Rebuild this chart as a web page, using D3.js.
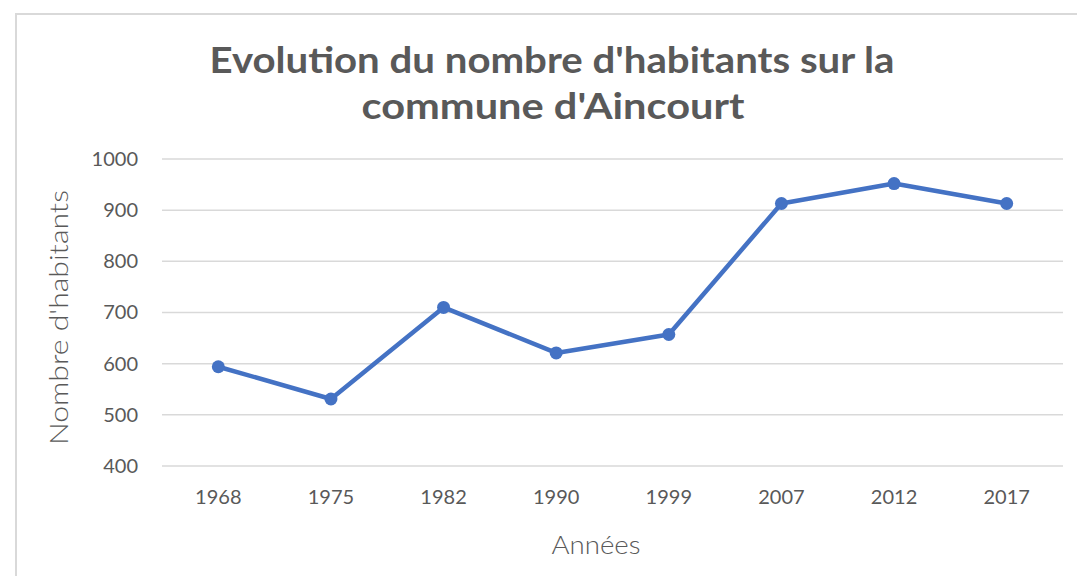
<!DOCTYPE html>
<html lang="fr">
<head>
<meta charset="utf-8">
<script src="https://cdn.jsdelivr.net/npm/d3@7/dist/d3.min.js"></script>
<style>
  html, body { margin: 0; padding: 0; background: #fff; }
  svg { display: block; }
</style>
</head>
<body>
<div id="chart"></div>
<script>
// Population d'Aincourt par recensement
const years = ["1968", "1975", "1982", "1990", "1999", "2007", "2012", "2017"];
const habitants = [594, 531, 710, 621, 657, 913, 952, 913];
const yTicks = [400, 500, 600, 700, 800, 900, 1000];
const titleLines = ["Evolution du nombre d'habitants sur la", "commune d'Aincourt"];

const W = 1077, H = 576;
const plot = { left: 162, right: 1063, top: 159, bottom: 466 };
const textColor = "#595959";
const lineColor = "#4472C4";

const svg = d3.select("#chart").append("svg")
  .attr("width", W).attr("height", H);

// Chart frame
svg.append("rect")
  .attr("x", 16).attr("y", 14)
  .attr("width", W + 10).attr("height", H + 10)
  .attr("fill", "#fff")
  .attr("stroke", "#d9d9d9").attr("stroke-width", 2);

const x = d3.scaleBand().domain(years).range([plot.left, plot.right]);
const y = d3.scaleLinear().domain([400, 1000]).range([plot.bottom, plot.top]);

// Horizontal gridlines
svg.append("g").selectAll("line").data(yTicks).join("line")
  .attr("x1", plot.left).attr("x2", plot.right)
  .attr("y1", d => y(d)).attr("y2", d => y(d))
  .attr("stroke", "#d9d9d9").attr("stroke-width", 1.5);

// Y axis labels
const yAxis = d3.axisLeft(y).tickValues(yTicks).tickFormat(d3.format("d")).tickSize(0).tickPadding(0);
svg.append("g")
  .attr("transform", `translate(${plot.left - 24},0)`)
  .call(yAxis)
  .call(g => g.select(".domain").remove())
  .selectAll("text")
  .attr("font-family", "Lato, 'Open Sans', sans-serif")
  .attr("font-size", 20)
  .attr("fill", textColor);

// X axis labels
const xAxis = d3.axisBottom(x).tickSize(0).tickPadding(0);
svg.append("g")
  .attr("transform", `translate(0,${plot.bottom + 24})`)
  .call(xAxis)
  .call(g => g.select(".domain").remove())
  .selectAll("text")
  .attr("font-family", "Lato, 'Open Sans', sans-serif")
  .attr("font-size", 20)
  .attr("fill", textColor);

// Axis titles
svg.append("text")
  .attr("transform", `translate(68,${(plot.top + plot.bottom) / 2 + 5}) rotate(-90)`)
  .attr("text-anchor", "middle")
  .attr("font-family", "Lato, sans-serif")
  .attr("font-weight", 300)
  .attr("font-size", 26)
  .attr("fill", textColor)
  .attr("textLength", 255)
  .attr("lengthAdjust", "spacingAndGlyphs")
  .text("Nombre d'habitants");

svg.append("text")
  .attr("x", 596)
  .attr("y", 554)
  .attr("text-anchor", "middle")
  .attr("font-family", "Lato, sans-serif")
  .attr("font-weight", 300)
  .attr("font-size", 26)
  .attr("fill", textColor)
  .attr("textLength", 89)
  .attr("lengthAdjust", "spacingAndGlyphs")
  .text("Années");

// Title
const titleWidths = [685, 383];
const titleCenters = [552, 553];
svg.append("g").selectAll("text").data(titleLines).join("text")
  .attr("x", (d, i) => titleCenters[i] - titleWidths[i] / 2)
  .attr("y", (d, i) => 73 + i * 46)
  .attr("font-family", "Lato, sans-serif")
  .attr("font-weight", 700)
  .attr("font-size", 37)
  .attr("fill", textColor)
  .attr("textLength", (d, i) => titleWidths[i])
  .attr("lengthAdjust", "spacingAndGlyphs")
  .text(d => d);

// Series
const pts = years.map((yr, i) => ({ yr, v: habitants[i] }));
const cx = d => x(d.yr) + x.bandwidth() / 2;

svg.append("path")
  .datum(pts)
  .attr("fill", "none")
  .attr("stroke", lineColor)
  .attr("stroke-width", 4.5)
  .attr("stroke-linejoin", "round")
  .attr("d", d3.line().x(cx).y(d => y(d.v)));

svg.append("g").selectAll("circle").data(pts).join("circle")
  .attr("cx", cx)
  .attr("cy", d => y(d.v))
  .attr("r", 6.5)
  .attr("fill", lineColor);
</script>
</body>
</html>
